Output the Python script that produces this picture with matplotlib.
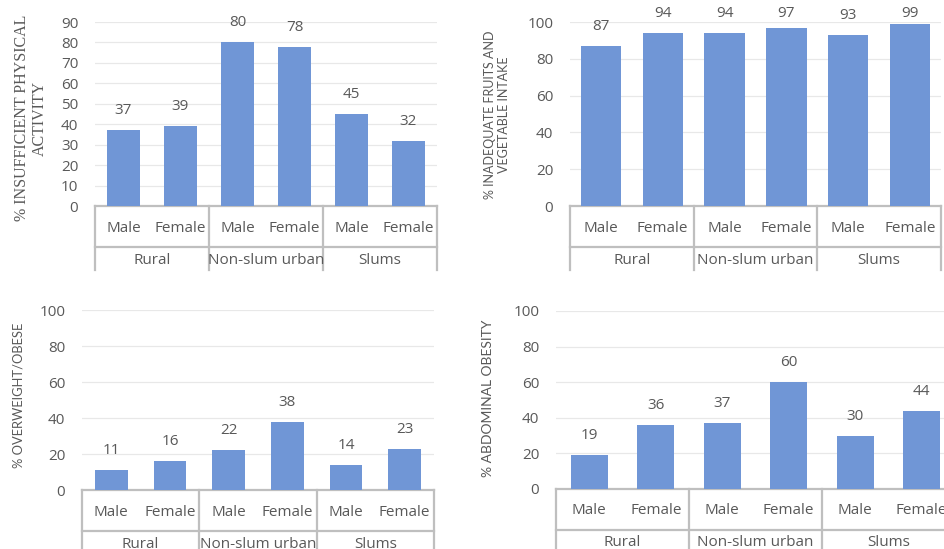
import matplotlib.pyplot as plt
import matplotlib.transforms as mtransforms

# datos de cada panel
sexes = ["Male", "Female", "Male", "Female", "Male", "Female"]
groups = ["Rural", "Non-slum urban", "Slums"]

activity = [37, 39, 80, 78, 45, 32]
fruits = [87, 94, 94, 97, 93, 99]
overweight = [11, 16, 22, 38, 14, 23]
abdominal = [19, 36, 37, 60, 30, 44]

W, H = 944, 549
BAR = "#7096d6"
TXT = "#595959"
AX = "#bfbfbf"

plt.rcParams['font.family'] = ['Open Sans', 'DejaVu Sans']

fig = plt.figure(figsize=(W / 100, H / 100), dpi=100)


def panel(vals, left, right, ytop, y0, ymax, step, ylabel, lab_x, lab_y, lab_font, lab_size, width):
    # posición en pixeles -> fracción de figura
    ax = fig.add_axes([left / W, 1 - y0 / H, (right - left) / W, (y0 - ytop) / H])
    x = list(range(len(vals)))
    ax.bar(x, vals, width=width, color=BAR, zorder=3)
    ax.set_xlim(-0.5, len(vals) - 0.5)
    ax.set_ylim(0, ymax)
    ax.set_yticks(range(0, ymax + 1, step))
    ax.tick_params(axis='y', length=0, pad=12, labelsize=11, labelcolor=TXT)
    ax.tick_params(axis='x', length=0, labelbottom=False)
    ax.grid(axis='y', color="#e8e8e8", lw=0.9, zorder=0)
    for s in ["top", "right", "left"]:
        ax.spines[s].set_visible(False)
    ax.spines["bottom"].set_color(AX)
    ax.spines["bottom"].set_linewidth(1.6)

    hpx = y0 - ytop
    tr = mtransforms.blended_transform_factory(ax.transData, ax.transAxes)
    # etiquetas de datos; como en Excel no salen del área del gráfico
    for xi, v in zip(x, vals):
        yl = min(v / ymax + 12 / hpx, (y0 - 21) / hpx)
        ax.text(xi, yl, str(v), transform=tr, ha="center", va="bottom", fontsize=11, color=TXT)

    # eje de categorías en dos niveles
    for b in [-0.5, 1.5, 3.5, 5.5]:
        ax.plot([b, b], [0, -64 / hpx], transform=tr, color=AX, lw=1.6, clip_on=False)
    ax.plot([-0.5, 5.5], [-41 / hpx, -41 / hpx], transform=tr, color=AX, lw=1.6, clip_on=False)
    for xi, s in zip(x, sexes):
        ax.text(xi, -22 / hpx, s, transform=tr, ha="center", va="center", fontsize=11, color=TXT)
    for gi, g in enumerate(groups):
        ax.text(gi * 2 + 0.5, -54 / hpx, g, transform=tr, ha="center", va="center", fontsize=11, color=TXT)

    fig.text(lab_x / W, 1 - lab_y / H, ylabel, rotation=90, ha="center", va="center",
             fontsize=lab_size, color=TXT, family=lab_font, linespacing=1.1)
    return ax


panel(activity, 95, 437, 22, 206, 90, 10, "% INSUFFICIENT PHYSICAL\nACTIVITY",
      31, 118, ['Liberation Serif'], 11.5, 0.58)
panel(fruits, 570, 941, 22, 206, 100, 20, "% INADEQUATE FRUITS AND\nVEGETABLE INTAKE",
      497, 115, ['Lato', 'DejaVu Sans'], 9, 0.65)
panel(overweight, 82, 434, 310, 490, 100, 20, "% OVERWEIGHT/OBESE",
      19, 395, ['Lato', 'DejaVu Sans'], 9.3, 0.56)
panel(abdominal, 556, 955, 311, 489, 100, 20, "% ABDOMINAL OBESITY",
      488, 398, ['Lato', 'DejaVu Sans'], 10, 0.56)

fig.savefig("out.png", dpi=100)
